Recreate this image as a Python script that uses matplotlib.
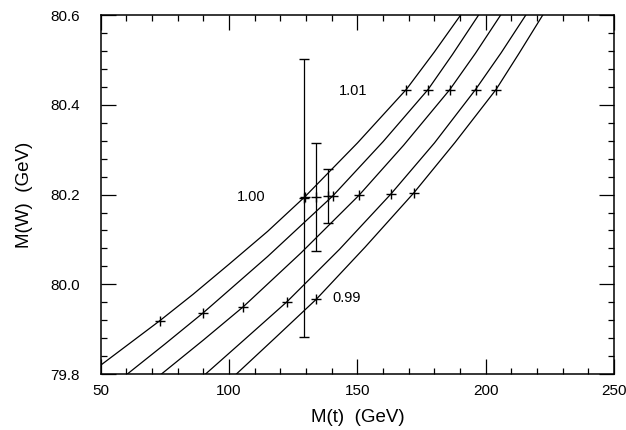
import numpy as np
import matplotlib.pyplot as plt
from matplotlib.ticker import MultipleLocator, FormatStrFormatter

plt.rcParams['font.family'] = ['Liberation Sans', 'DejaVu Sans']

# curves of constant rho
curve1_mt = [50, 73, 86, 100, 115, 129.5, 150, 169, 180, 190.2]
curve1_mw = [79.82, 79.919, 79.978, 80.045, 80.118, 80.195, 80.315, 80.434, 80.518, 80.6]
curve2_mt = [60.3, 75, 90, 115, 140.4, 160, 177.5, 187, 197.2]
curve2_mw = [79.8, 79.867, 79.937, 80.062, 80.197, 80.318, 80.434, 80.512, 80.6]
curve3_mt = [73.6, 90, 105.5, 128, 150.7, 168, 186, 196, 205.8]
curve3_mw = [79.8, 79.876, 79.95, 80.07, 80.199, 80.31, 80.434, 80.515, 80.6]
curve4_mt = [90.8, 106, 122.5, 143, 163, 180, 196, 206, 215.6]
curve4_mw = [79.8, 79.877, 79.961, 80.078, 80.201, 80.315, 80.434, 80.516, 80.6]
curve5_mt = [102.8, 118, 134, 153, 172, 188, 204, 213, 222.2]
curve5_mw = [79.8, 79.881, 79.967, 80.083, 80.204, 80.316, 80.434, 80.515, 80.6]

# marked points on each curve
cross_mt = [73, 90, 105.5, 122.5, 134,
            129.5, 140.4, 150.7, 163, 172,
            169, 177.5, 186, 196, 204]
cross_mw = [79.919, 79.937, 79.95, 79.961, 79.967,
            80.195, 80.197, 80.199, 80.201, 80.204,
            80.434, 80.434, 80.434, 80.434, 80.434]

# measurements with errors
meas_mt = [129.1, 133.7, 138.4]
meas_mw = [80.193, 80.195, 80.197]
meas_err = [0.31, 0.12, 0.06]

labels = ['1.01', '1.00', '0.99']
label_mt = [148.3, 108.7, 145.8]
label_mw = [80.43, 80.195, 79.969]


def main():
    fig = plt.figure(figsize=(6.26, 4.30), dpi=100)
    ax = fig.add_axes([0.161, 0.130, 0.820, 0.835])

    curves = [(curve1_mt, curve1_mw), (curve2_mt, curve2_mw), (curve3_mt, curve3_mw),
              (curve4_mt, curve4_mw), (curve5_mt, curve5_mw)]
    for mt, mw in curves:
        ax.plot(mt, mw, color='black', lw=0.9)

    ax.plot(cross_mt, cross_mw, ls='none', marker='+', ms=7, mew=1.0, color='black')
    ax.errorbar(meas_mt, meas_mw, yerr=meas_err, fmt='+', ms=7, mew=1.0,
                color='black', elinewidth=0.9, capsize=3.5, capthick=0.9)

    for t, x, y in zip(labels, label_mt, label_mw):
        ax.text(x, y, t, fontsize=10.5, ha='center', va='center')

    ax.set_xlim(50, 250)
    ax.set_ylim(79.8, 80.6)
    ax.xaxis.set_major_locator(MultipleLocator(50))
    ax.xaxis.set_minor_locator(MultipleLocator(10))
    ax.yaxis.set_major_locator(MultipleLocator(0.2))
    ax.yaxis.set_minor_locator(MultipleLocator(0.04))
    ax.yaxis.set_major_formatter(FormatStrFormatter('%.1f'))

    ax.tick_params(which='both', direction='in', top=True, right=True, width=0.9)
    ax.tick_params(which='major', length=11, labelsize=11)
    ax.tick_params(which='minor', length=4.5)
    ax.tick_params(axis='x', which='major', pad=7)
    ax.tick_params(axis='y', which='major', pad=15)
    for s in ax.spines.values():
        s.set_linewidth(1.1)

    ax.set_xlabel('M(t)  (GeV)', fontsize=13.5)
    ax.set_ylabel('M(W)  (GeV)', fontsize=13.5)
    ax.xaxis.set_label_coords(0.5, -0.097)
    ax.yaxis.set_label_coords(-0.133, 0.5)

    fig.savefig('out.png', dpi=100)


if __name__ == '__main__':
    main()
